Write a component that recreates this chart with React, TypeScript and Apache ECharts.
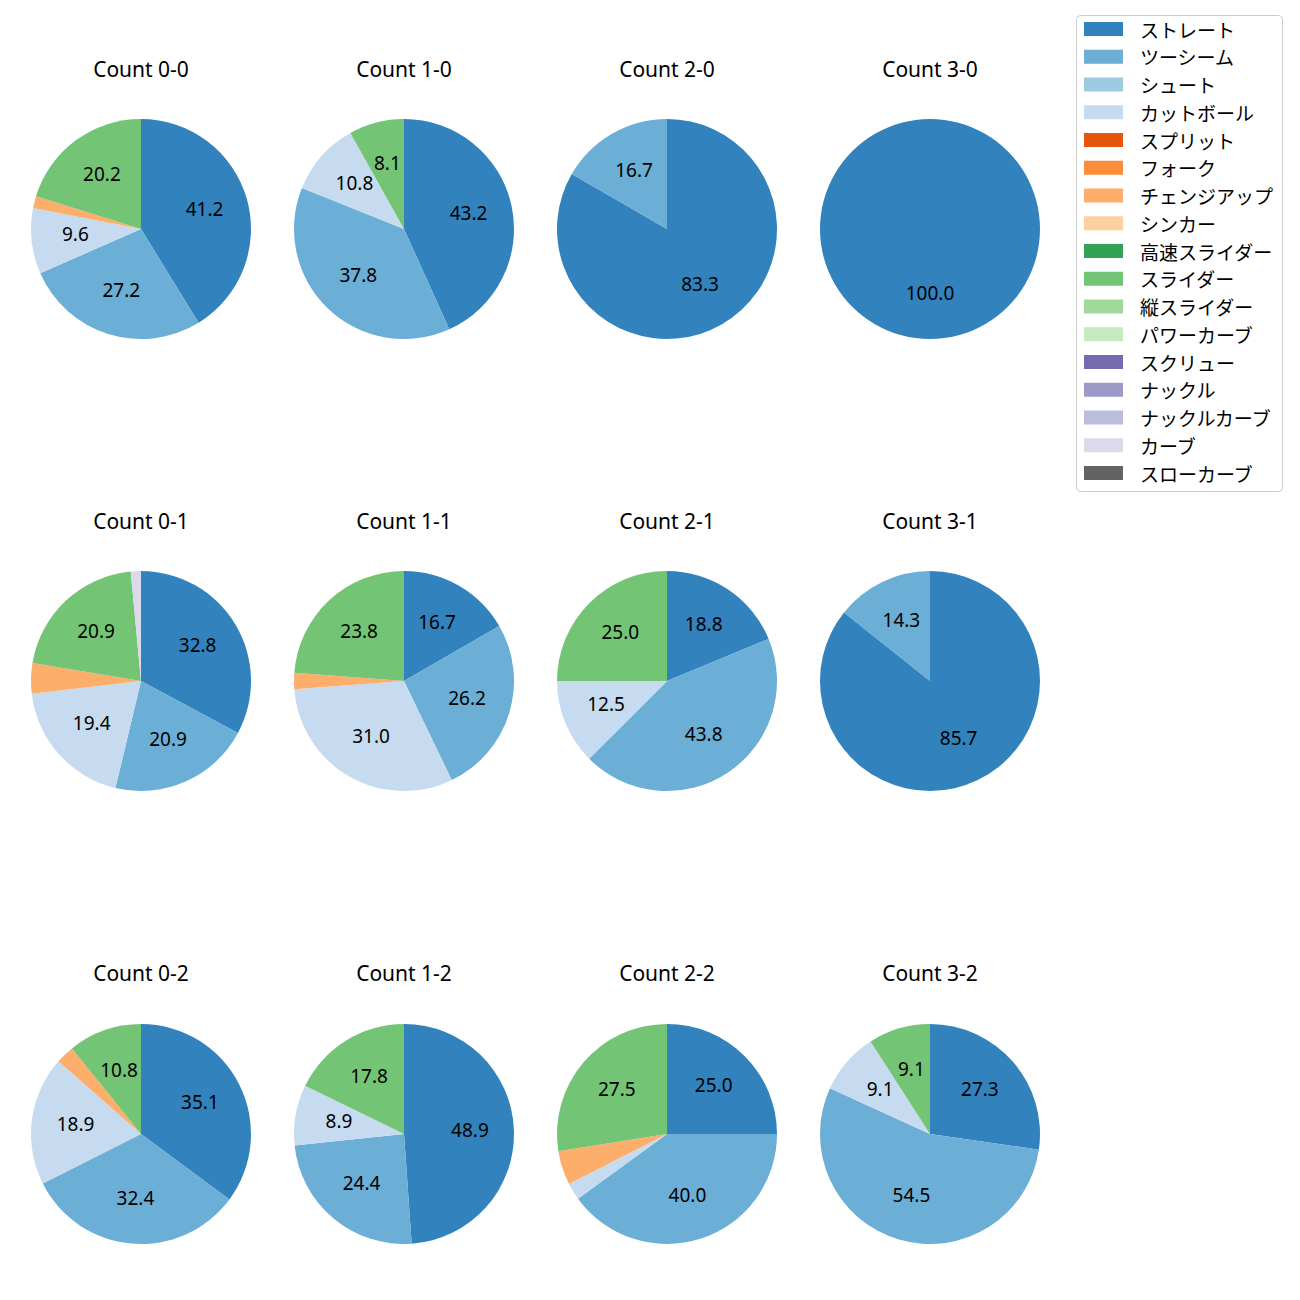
import React, { useEffect, useRef } from "react";
import * as echarts from "echarts";

const pitchTypes = [
  "ストレート", "ツーシーム", "シュート", "カットボール", "スプリット", "フォーク",
  "チェンジアップ", "シンカー", "高速スライダー", "スライダー", "縦スライダー",
  "パワーカーブ", "スクリュー", "ナックル", "ナックルカーブ", "カーブ", "スローカーブ",
];
const pitchColors = [
  "#3182bd", "#6baed6", "#9ecae1", "#c6dbef", "#e6550d", "#fd8d3c",
  "#fdae6b", "#fdd0a2", "#31a354", "#74c476", "#a1d99b", "#c7e9c0",
  "#756bb1", "#9e9ac8", "#bcbddc", "#dadaeb", "#636363",
];
const counts = ["0-0", "1-0", "2-0", "3-0", "0-1", "1-1", "2-1", "3-1", "0-2", "1-2", "2-2", "3-2"];
// pitch counts per panel, in pitchTypes order
const c00 = [47, 31, 0, 11, 0, 0, 2, 0, 0, 23, 0, 0, 0, 0, 0, 0, 0];
const c10 = [16, 14, 0, 4, 0, 0, 0, 0, 0, 3, 0, 0, 0, 0, 0, 0, 0];
const c20 = [5, 1, 0, 0, 0, 0, 0, 0, 0, 0, 0, 0, 0, 0, 0, 0, 0];
const c30 = [1, 0, 0, 0, 0, 0, 0, 0, 0, 0, 0, 0, 0, 0, 0, 0, 0];
const c01 = [22, 14, 0, 13, 0, 0, 3, 0, 0, 14, 0, 0, 0, 0, 0, 1, 0];
const c11 = [7, 11, 0, 13, 0, 0, 1, 0, 0, 10, 0, 0, 0, 0, 0, 0, 0];
const c21 = [3, 7, 0, 2, 0, 0, 0, 0, 0, 4, 0, 0, 0, 0, 0, 0, 0];
const c31 = [6, 1, 0, 0, 0, 0, 0, 0, 0, 0, 0, 0, 0, 0, 0, 0, 0];
const c02 = [13, 12, 0, 7, 0, 0, 1, 0, 0, 4, 0, 0, 0, 0, 0, 0, 0];
const c12 = [22, 11, 0, 4, 0, 0, 0, 0, 0, 8, 0, 0, 0, 0, 0, 0, 0];
const c22 = [10, 16, 0, 1, 0, 0, 2, 0, 0, 11, 0, 0, 0, 0, 0, 0, 0];
const c32 = [3, 6, 0, 1, 0, 0, 0, 0, 0, 1, 0, 0, 0, 0, 0, 0, 0];
const panelData = [c00, c10, c20, c30, c01, c11, c21, c31, c02, c12, c22, c32];

const colX = [141, 404, 667, 930];
const rowY = [229, 681, 1134];
const titleY = [69, 521, 973];
const R = 110;
const FONT = "'Noto Sans CJK JP', 'Noto Sans', sans-serif";
const LATIN = "'Noto Sans', 'Noto Sans CJK JP', sans-serif";

export default function App() {
  const ref = useRef<HTMLDivElement>(null);
  useEffect(() => {
    if (!ref.current) return;
    const chart = echarts.init(ref.current, undefined, { renderer: "svg" });
    const series: any[] = [];
    const overlays: any[] = [];
    const graphics: any[] = [];
    panelData.forEach((vals, i) => {
      const cx = colX[i % 4];
      const cy = rowY[Math.floor(i / 4)];
      const total = vals.reduce((a, b) => a + b, 0);
      const data = pitchTypes.map((n, k) => ({
        name: n,
        value: vals[k],
        itemStyle: { color: pitchColors[k] },
      }));
      series.push({
        type: "pie",
        center: [cx, cy],
        radius: [0, R],
        startAngle: 90,
        clockwise: true,
        silent: true,
        avoidLabelOverlap: false,
        label: { show: false },
        labelLine: { show: false },
        itemStyle: { borderWidth: 0 },
        emphasis: { disabled: true },
        data,
      });
      overlays.push({
        type: "pie",
        center: [cx, cy],
        radius: [0, 2 * (0.6 * R - 3)],
        startAngle: 90,
        clockwise: true,
        silent: true,
        avoidLabelOverlap: false,
        itemStyle: { color: "rgba(0,0,0,0)", borderWidth: 0 },
        labelLine: { show: false },
        labelLayout: { dy: -2 },
        emphasis: { disabled: true },
        label: {
          show: true,
          position: "inside",
          color: "#000",
          fontSize: 19,
          fontFamily: LATIN,
          formatter: (p: any) => {
            const pct = (p.value / total) * 100;
            return pct > 5 ? pct.toFixed(1) : "";
          },
        },
        data: pitchTypes.map((n, k) => ({ name: n, value: vals[k] })),
      });
      graphics.push({
        type: "text",
        x: cx,
        y: titleY[Math.floor(i / 4)],
        style: {
          text: "Count " + counts[i],
          align: "center",
          verticalAlign: "middle",
          fontSize: 21,
          fontFamily: LATIN,
          fill: "#000",
        },
      });
    });
    graphics.push({
      type: "rect",
      shape: { x: 1076.5, y: 15.5, width: 206, height: 476, r: 4 },
      style: { fill: "#fff", stroke: "#cccccc", lineWidth: 1 },
      z: -1,
    });
    chart.setOption({
      animation: false,
      backgroundColor: "#fff",
      graphic: graphics,
      legend: {
        orient: "vertical",
        left: 1084,
        top: 19,
        padding: 0,
        itemWidth: 39,
        itemHeight: 14,
        itemGap: 7.75,
        icon: "rect",
        selectedMode: false,
        data: pitchTypes,
        textStyle: {
          fontSize: 19,
          lineHeight: 20,
          fontFamily: FONT,
          color: "#000",
          padding: [0, 0, 0, 12],
        },
      },
      series: [...series, ...overlays],
    });
    return () => chart.dispose();
  }, []);
  return (
    <div
      ref={ref}
      style={{ position: "fixed", left: 0, top: 0, width: 1300, height: 1300 }}
    />
  );
}
